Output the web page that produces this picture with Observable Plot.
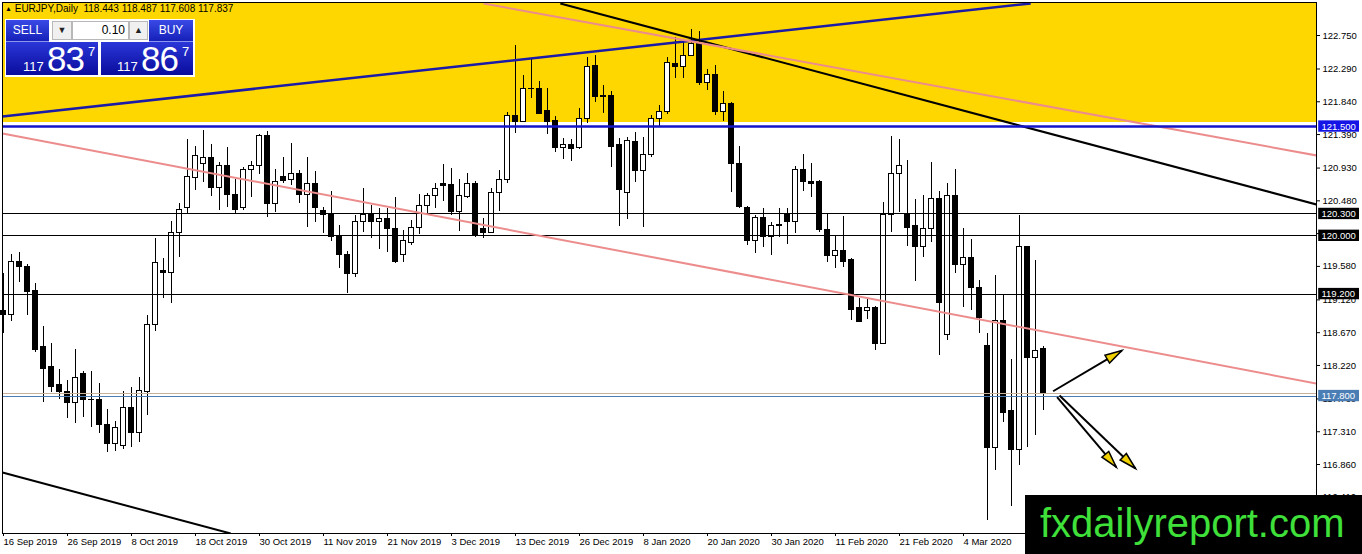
<!DOCTYPE html>
<html><head><meta charset="utf-8">
<script src="https://cdn.jsdelivr.net/npm/d3@7"></script>
<script src="https://cdn.jsdelivr.net/npm/@observablehq/plot@0.6"></script>
<style>
body{margin:0;background:#fff;}
#wrap{position:relative;width:1362px;height:554px;overflow:hidden;font-family:"Liberation Sans",Arial,sans-serif;}
#chart{position:absolute;left:0;top:0;}
.ov{position:absolute;box-sizing:border-box;}
.btn{background:linear-gradient(#3a4ae6,#1520b8);color:#fff;font-size:12px;text-align:center;line-height:21px;border-bottom:1px solid #8c96f0;}
.spin{background:#f0f0f0;border:1px solid #b8b8b8;font-size:9px;text-align:center;line-height:17px;color:#222;}
.qty{background:#fff;border:1px solid #b8b8b8;font-size:12px;text-align:right;line-height:17px;padding-right:3px;color:#000;}
.px{background:linear-gradient(#2a36d8,#0a0c9c);color:#fff;}
.px span{position:absolute;}
.s{font-size:13px;top:17px;}
.b{font-size:35px;top:-3px;letter-spacing:-1px;}
.sup{font-size:13px;top:2px;}
#wm{left:1025px;top:495px;width:337px;height:59px;background:#000;color:#3fe03a;font-size:40px;line-height:56px;padding-left:15px;white-space:nowrap;}
#hdr{left:5px;top:3px;font-size:10px;color:#000;white-space:pre;}
</style></head>
<body><div id="wrap"><div id="chart"></div>
<div class="ov" id="hdr"><span style="font-size:7px;vertical-align:1px">▲</span> EURJPY,Daily  118.443 118.487 117.608 117.837</div>
<div class="ov" style="left:5px;top:19px;width:190px;height:58px;background:#fff"></div>
<div class="ov btn" style="left:6px;top:20px;width:43px;height:22px">SELL</div>
<div class="ov spin" style="left:52px;top:21px;width:20px;height:19px">▼</div>
<div class="ov qty" style="left:72px;top:21px;width:57px;height:19px">0.10</div>
<div class="ov spin" style="left:129px;top:21px;width:19px;height:19px">▲</div>
<div class="ov btn" style="left:149px;top:20px;width:44px;height:22px">BUY</div>
<div class="ov px" style="left:6px;top:42px;width:92px;height:33px"><span class="s" style="left:17px">117</span><span class="b" style="left:41px">83</span><span class="sup" style="left:82px">7</span></div>
<div class="ov px" style="left:101px;top:42px;width:92px;height:33px"><span class="s" style="left:16px">117</span><span class="b" style="left:40px">86</span><span class="sup" style="left:81px">7</span></div>
<div class="ov" id="wm">fxdailyreport.com</div>
</div>
<script>
// Daily EURJPY bars, 16 Sep 2019 .. 18 Mar 2020 (bar index 0..130)
const opens = [118.974,118.906,119.634,119.565,119.236,118.480,118.192,117.945,117.862,117.711,118.096,117.752,117.752,117.409,117.148,117.121,117.642,117.286,117.862,118.782,119.510,119.496,120.045,120.375,120.800,120.979,121.075,120.663,120.952,120.567,120.375,120.910,120.952,121.364,120.430,120.814,120.773,120.855,120.567,120.718,120.347,120.279,119.977,119.743,119.469,120.183,120.292,120.196,120.237,120.100,119.730,119.908,120.114,120.416,120.540,120.718,120.691,120.320,120.526,120.718,120.100,120.045,120.581,120.773,121.638,121.569,122.022,122.022,121.707,121.583,121.212,121.240,121.199,121.610,122.338,121.926,121.913,121.240,120.594,121.281,120.883,121.103,121.597,121.693,122.352,122.324,122.475,122.640,122.091,122.201,121.693,121.803,120.979,120.375,119.922,120.251,119.977,120.155,120.306,120.183,120.910,120.732,120.745,120.073,119.716,119.785,119.661,119.002,118.974,119.002,118.521,120.279,120.855,120.279,120.128,119.840,120.087,120.512,118.645,120.553,119.606,119.702,119.277,118.494,117.093,118.837,117.588,117.066,119.840,118.329,118.443];
const highs = [119.483,119.743,119.771,119.606,119.345,118.755,118.521,118.165,118.013,118.439,118.137,118.137,117.972,117.615,117.450,117.862,117.917,118.054,118.906,119.963,119.689,120.196,120.443,121.322,121.226,121.446,121.253,121.006,121.212,120.773,120.938,121.020,121.391,121.432,120.910,121.075,121.267,120.897,121.075,120.883,120.389,120.608,120.141,119.785,120.279,120.649,120.416,120.375,120.375,120.526,120.073,120.210,120.567,120.581,120.718,120.979,120.924,120.773,120.855,120.745,120.237,120.649,120.897,121.693,122.612,122.201,122.434,122.118,122.022,121.638,121.336,121.322,121.748,122.448,122.475,122.063,121.981,121.336,121.350,121.418,121.350,121.652,121.789,122.448,122.722,122.668,122.832,122.805,122.283,122.338,121.981,121.830,121.226,120.402,120.279,120.375,120.183,120.375,120.375,120.952,121.116,120.993,120.759,120.306,119.990,120.265,119.689,119.139,119.139,119.029,120.457,121.364,121.322,121.034,120.498,120.553,121.006,120.608,120.718,120.910,120.100,119.949,119.386,118.659,119.455,119.180,118.302,120.279,119.850,119.661,118.487];
const lows = [118.659,118.823,119.359,118.906,118.398,117.711,117.849,117.752,117.491,117.423,117.505,117.368,117.286,117.025,117.038,117.066,117.093,117.162,117.532,118.686,119.139,119.071,119.702,120.306,120.622,120.732,120.540,120.347,120.389,120.306,120.347,120.526,120.842,120.251,120.320,120.718,120.691,120.443,120.114,120.183,120.032,119.922,119.551,119.208,119.428,120.045,119.963,119.812,119.771,119.620,119.634,119.867,120.018,120.306,120.375,120.471,120.279,120.059,120.512,119.977,119.963,120.032,120.334,120.718,121.404,121.555,121.885,121.665,121.391,121.144,121.048,121.020,121.185,121.542,121.830,121.679,120.938,120.128,120.224,120.732,120.114,121.075,121.487,121.665,122.160,122.160,122.462,122.063,121.995,121.652,121.569,120.594,120.375,119.867,119.757,119.840,119.730,119.977,119.881,120.032,120.608,120.526,120.045,119.634,119.551,119.565,118.837,118.810,118.851,118.425,118.508,120.045,120.320,119.853,119.373,119.702,119.908,118.356,118.563,119.483,119.016,118.974,118.659,116.091,116.778,117.437,116.283,116.847,117.093,117.258,117.608];
const closes = [118.919,119.634,119.565,119.222,118.439,118.178,117.931,117.849,117.711,118.041,117.752,117.739,117.409,117.148,117.368,117.642,117.299,117.876,118.782,119.620,119.483,120.045,120.361,120.814,121.089,121.075,120.663,120.952,120.567,120.361,120.910,120.952,121.364,120.430,120.732,120.759,120.855,120.567,120.718,120.375,120.279,119.977,119.743,119.469,120.183,120.292,120.196,120.237,120.100,119.647,119.922,120.114,120.416,120.540,120.636,120.677,120.320,120.540,120.718,120.004,120.045,120.581,120.773,121.638,121.569,122.022,122.009,121.679,121.569,121.199,121.240,121.185,121.610,122.324,121.899,121.899,121.226,120.622,121.295,120.883,121.116,121.597,121.693,122.366,122.324,122.475,122.640,122.091,122.201,121.693,121.803,120.979,120.389,119.922,120.251,119.977,120.141,120.128,120.183,120.910,120.732,120.718,120.073,119.716,119.785,119.647,118.988,118.823,119.002,118.521,120.279,120.855,120.965,120.114,119.840,120.087,120.512,119.071,120.553,119.593,119.702,119.277,118.865,117.093,118.837,117.574,117.066,119.840,118.329,118.425,117.837];

const tickIndex = [0,8,16,24,32,40,48,56,64,72,80,88,96,104,112,120];
const tickLabels = ["16 Sep 2019","26 Sep 2019","8 Oct 2019","18 Oct 2019","30 Oct 2019","11 Nov 2019","21 Nov 2019","3 Dec 2019","13 Dec 2019","26 Dec 2019","8 Jan 2020","20 Jan 2020","30 Jan 2020","11 Feb 2020","21 Feb 2020","4 Mar 2020"];
const priceTicks = [122.75,122.29,121.84,121.39,120.93,120.48,120.03,119.58,119.12,118.67,118.22,117.76,117.31,116.86,116.41];

const xDomain = [-0.125, 164.125];
const yDomain = [115.913, 123.203];

// yellow zone
const zoneFrom = [121.556];
const zoneTo = [123.203];

// horizontal levels
const levelPrices = [120.3, 120.0, 119.2];
const levelColors = ["#000","#000","#000"];
const bluePrice = [121.5];
const bidPrice = [117.837];
const steelPrice = [117.8];

// labelled levels on the price axis
const tagPrices = [121.5, 120.3, 120.0, 119.2, 117.8];
const tagColors = ["#1414e6","#000","#000","#000","#4a7db4"];

// trend lines: [i1, p1, i2, p2]
const trendX1 = [-0.125, 69.6, 60.0, -0.125, -0.125];
const trendY1 = [121.638, 123.19, 123.19, 121.405, 116.75];
const trendX2 = [128.4, 164.125, 164.125, 164.125, 28.4];
const trendY2 = [123.19, 120.43, 121.103, 117.972, 115.913];
const trendColors = ["#1b1ba8","#000","#ec8c8c","#ec8c8c","#000"];
const trendWidths = [2.5, 2, 2, 2, 2];

// arrows: start -> tip
const arrX1 = [131.2, 131.7, 132.0];
const arrY1 = [117.866, 117.784, 117.807];
const arrX2 = [139.8, 139.1, 141.5];
const arrY2 = [118.425, 116.823, 116.805];

const candles = opens.map((o, i) => ({i, open: o, high: highs[i], low: lows[i], close: closes[i]}));
const trends = trendX1.map((x, k) => ({x1: x, y1: trendY1[k], x2: trendX2[k], y2: trendY2[k], c: trendColors[k], w: trendWidths[k]}));
const tags = tagPrices.map((p, k) => ({p, c: tagColors[k]}));
const arrows = arrX1.map((x, k) => ({x1: x, y1: arrY1[k], x2: arrX2[k], y2: arrY2[k]}));

const W = 1362, H = 554, mL = 2, mR = 46, mT = 2, mB = 21;
const sx = d3.scaleLinear(xDomain, [mL, W - mR]);
const sy = d3.scaleLinear(yDomain, [H - mB, mT]);

function headSymbol(a) {
  const dx = sx(a.x2) - sx(a.x1), dy = sy(a.y2) - sy(a.y1);
  const len = Math.hypot(dx, dy), ux = dx / len, uy = dy / len;
  const L = 17, w = 4.5;
  return {draw(ctx) {
    ctx.moveTo(0, 0);
    ctx.lineTo(-L * ux - w * uy, -L * uy + w * ux);
    ctx.lineTo(-L * ux + w * uy, -L * uy - w * ux);
    ctx.closePath();
  }};
}

const crisp = {shapeRendering: "crispEdges"};
const chart = Plot.plot({
  width: W, height: H, marginLeft: mL, marginRight: mR, marginTop: mT, marginBottom: mB,
  x: {domain: xDomain, axis: null},
  y: {domain: yDomain, axis: null},
  style: {fontFamily: "'Liberation Sans', Arial, sans-serif", fontSize: "9.5px", background: "white", color: "black", overflow: "visible"},
  marks: [
    Plot.rect(zoneFrom, {x1: () => xDomain[0], x2: () => xDomain[1], y1: d => d, y2: (d, k) => zoneTo[k], fill: "#ffd700", ...crisp}),
    Plot.ruleX(candles, {x: "i", y1: "low", y2: "high", stroke: "#000", strokeWidth: 1, ...crisp}),
    Plot.rect(candles, {x1: d => d.i - 0.3, x2: d => d.i + 0.3, y1: "open", y2: "close",
      fill: d => d.close >= d.open ? "white" : "black", stroke: "#000", strokeWidth: 1, ...crisp}),
    Plot.ruleY(levelPrices, {y: d => d, stroke: (d, k) => levelColors[k], strokeWidth: 1, ...crisp}),
    Plot.ruleY(bidPrice, {y: d => d, stroke: "#c8b09c", strokeWidth: 1, ...crisp}),
    Plot.ruleY(steelPrice, {y: d => d, stroke: "#4a7db4", strokeWidth: 1, ...crisp}),
    Plot.link(trends, {x1: "x1", y1: "y1", x2: "x2", y2: "y2", stroke: d => d.c, strokeWidth: d => d.w, clip: true}),
    Plot.ruleY(bluePrice, {y: d => d, stroke: "#1414c8", strokeWidth: 2.5}),
    Plot.frame({stroke: "#000", ...crisp}),
    Plot.axisX({ticks: tickIndex, tickFormat: d => tickLabels[tickIndex.indexOf(d)], textAnchor: "start", tickSize: 3, tickPadding: 2, fontSize: 9.5}),
    Plot.axisY({anchor: "right", ticks: priceTicks, tickFormat: d3.format(".3f"), tickSize: 3, tickPadding: 3, fontSize: 9.5}),
    Plot.rect(tags, {x1: () => 164.4, x2: () => 169.5, y1: d => d.p - 0.078, y2: d => d.p + 0.078, fill: d => d.c}),
    Plot.text(tags, {x: () => 164.75, y: "p", text: d => d3.format(".3f")(d.p), fill: "white", textAnchor: "start", fontSize: 9.5}),
    Plot.link(arrows, {x1: "x1", y1: "y1", x2: "x2", y2: "y2", stroke: "#000", strokeWidth: 2}),
    ...arrows.map(a => Plot.dot([a], {x: "x2", y: "y2", symbol: headSymbol(a), r: 5, fill: "#f0d000", stroke: "#000", strokeWidth: 1.5}))
  ]
});
document.getElementById("chart").appendChild(chart);
</script>
</body></html>
